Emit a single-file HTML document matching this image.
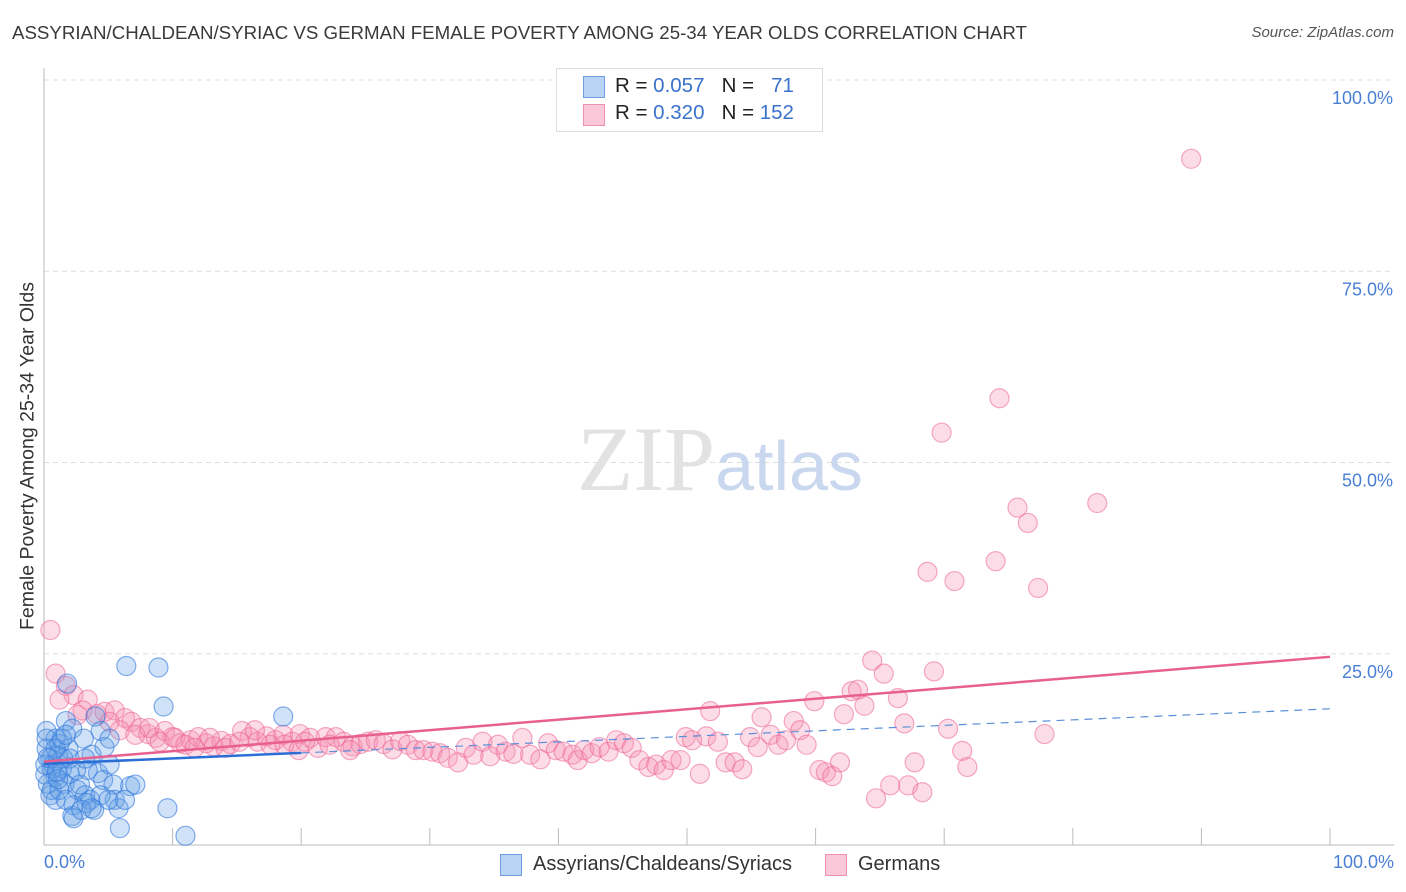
<!DOCTYPE html>
<html><head><meta charset="utf-8"><style>
body{margin:0;background:#fff;font-family:"Liberation Sans",sans-serif;}
#wrap{position:relative;width:1406px;height:892px;overflow:hidden;}
.t{position:absolute;white-space:nowrap;}
</style></head><body>
<div id="wrap">
<div class="t" style="left:12px;top:22px;font-size:18.7px;color:#3a3a3a;">ASSYRIAN/CHALDEAN/SYRIAC VS GERMAN FEMALE POVERTY AMONG 25-34 YEAR OLDS CORRELATION CHART</div>
<div class="t" style="right:12px;top:24px;font-size:15px;color:#555;font-style:italic;">Source: ZipAtlas.com</div>
<svg id="svg" width="1406" height="892" style="position:absolute;left:0;top:0"></svg>
</div>
<script>
const blueX=[6.4,8.9,1.8,9.3,18.6,1.7,2.2,4.4,4.0,0.2,0.9,1.2,3.1,0.2,0.5,0.6,0.9,0.3,1.4,2.0,1.6,3.7,4.2,5.1,4.6,2.6,3.2,5.4,6.7,7.1,5.5,3.6,2.3,3.9,5.8,2.2,3.3,5.9,9.6,11.0,0.7,1.1,0.1,0.5,1.9,2.3,4.7,1.5,2.8,0.9,4.4,3.4,1.7,5.0,2.9,0.2,0.6,1.2,2.0,0.9,0.1,0.3,1.4,1.1,2.5,3.2,3.7,6.3,5.1,1.0,1.7];
const blueY=[23.4,23.2,21.1,18.1,16.8,16.2,15.2,14.9,16.8,14.9,13.9,13.2,13.9,12.6,11.3,10.0,8.9,8.0,10.0,9.3,8.0,11.8,9.4,10.5,8.5,7.2,6.5,7.9,7.7,7.9,5.9,5.9,5.2,4.6,4.8,3.8,5.5,2.2,4.8,1.2,10.5,11.7,9.2,6.5,12.6,3.5,12.8,11.3,7.9,5.9,6.5,9.8,5.9,5.9,4.6,13.9,7.2,7.2,11.3,12.6,10.5,11.4,13.9,8.6,9.8,11.3,4.8,5.9,13.9,9.6,14.4];
const pinkX=[0.5,0.9,1.7,2.3,3.4,3.0,4.1,4.7,5.5,6.3,6.8,7.5,8.1,8.7,9.4,10.0,10.6,11.4,12.0,12.6,13.2,13.8,14.5,15.4,16.0,16.6,17.3,18.0,18.6,19.3,19.9,20.7,21.3,21.9,22.7,23.3,24.0,24.6,25.2,25.8,26.4,27.1,27.7,28.3,28.9,29.5,30.2,30.8,31.4,32.2,32.8,33.4,34.1,34.7,35.3,35.9,36.5,37.2,37.8,38.6,39.2,39.8,40.4,41.1,41.5,42.0,42.6,43.2,43.9,44.5,45.1,45.7,46.3,47.0,47.6,48.2,48.8,49.5,49.9,50.4,51.0,51.5,51.8,52.4,53.0,53.7,54.3,54.9,55.5,55.8,56.5,57.1,57.7,58.3,58.8,59.3,59.9,60.3,60.8,61.3,61.9,62.2,62.8,63.3,63.8,64.4,64.7,65.3,65.8,66.4,66.9,67.2,67.7,68.3,68.7,69.2,69.8,70.3,70.8,71.4,71.8,74.0,74.3,75.7,76.5,77.3,77.8,81.9,89.2,1.2,2.6,5.1,5.9,7.1,8.2,9.0,10.2,11.0,11.7,12.9,14.1,15.2,16.4,17.6,18.7,19.8,20.3,22.2,23.8];
const pinkY=[28.1,22.4,20.8,19.6,19.0,17.6,17.1,17.4,17.6,16.6,16.1,15.3,14.5,14.0,14.9,14.1,13.3,13.7,14.1,13.3,12.9,13.6,13.2,14.9,14.1,13.5,14.2,13.7,14.4,13.5,14.5,14.0,12.7,14.1,14.1,13.5,12.9,13.2,13.5,13.7,13.2,12.5,13.6,13.1,12.4,12.4,12.2,12.0,11.4,10.8,12.7,11.8,13.5,11.6,13.1,12.2,11.9,14.0,11.8,11.2,13.3,12.4,12.2,11.8,11.1,12.4,12.0,12.8,12.2,13.7,13.3,12.7,11.1,10.2,10.5,9.8,11.1,11.1,14.1,13.7,9.3,14.2,17.5,13.5,10.8,10.8,9.9,14.1,12.8,16.7,14.4,13.1,13.7,16.2,15.0,13.1,18.8,9.8,9.5,9.0,10.8,17.1,20.1,20.3,18.2,24.1,6.1,22.4,7.8,19.2,15.9,7.8,10.8,6.9,35.7,22.7,53.9,15.2,34.5,12.3,10.2,37.1,58.4,44.1,42.1,33.6,14.5,44.7,89.7,19.0,17.0,16.1,15.0,14.4,15.3,13.5,14.0,13.1,12.7,14.0,12.7,13.5,15.0,13.1,13.1,12.4,13.5,13.1,12.4];
const xTicks=[0,10,20,30,40,50,60,70,80,90,100];
const yTicks=[25,50,75,100];
const yTickLabels=["25.0%","50.0%","75.0%","100.0%"];
const blueTrend=[10.6,17.8];
const pinkTrend=[10.9,24.6];
const blueSolidEnd=20;

const NS="http://www.w3.org/2000/svg";
const svg=document.getElementById('svg');
const X=v=>44+v*12.86, Y=v=>845-v*7.65;
function mk(tag,attrs,parent){const e=document.createElementNS(NS,tag);for(const k in attrs)e.setAttribute(k,attrs[k]);(parent||svg).appendChild(e);return e;}
yTicks.forEach((t,i)=>{
 const g=mk('line',{x1:44,x2:1394,y1:Y(t),y2:Y(t),stroke:'#ddd','stroke-dasharray':'5,4'});
 
 
 const tx=mk('text',{x:1393,y:Y(t)+24,'text-anchor':'end','font-size':18,fill:'#4a7fd4','font-family':'Liberation Sans, sans-serif'});
 tx.textContent=yTickLabels[i];
 
 
});
const ax=mk('line',{x1:44,x2:1394,y1:845,y2:845,stroke:'#bbb'});


const ay=mk('line',{x1:44,x2:44,y1:68,y2:845,stroke:'#bbb'});


xTicks.forEach(t=>{if(t===0)return;
 const l=mk('line',{x1:X(t),x2:X(t),y1:828,y2:845,stroke:'#bbb'});
 
 
});
const wm=mk('text',{x:720,y:490,'text-anchor':'middle','font-size':92,'font-family':'Liberation Serif, serif',fill:'#e2e2e2'});
wm.innerHTML='ZIP<tspan fill="#c9d8ee" font-family="Liberation Sans, sans-serif" font-size="70">atlas</tspan>';


pinkX.forEach((x,i)=>{const c=mk('circle',{cx:X(x),cy:Y(pinkY[i]),r:9.5,fill:'rgba(244,143,177,0.3)',stroke:'rgba(236,100,150,0.55)','stroke-width':1.2});
 
 });
blueX.forEach((x,i)=>{const c=mk('circle',{cx:X(x),cy:Y(blueY[i]),r:9.5,fill:'rgba(100,160,230,0.3)',stroke:'rgba(50,120,220,0.6)','stroke-width':1.2});
 
 });
const bt=v=>blueTrend[0]+(blueTrend[1]-blueTrend[0])*v/100;
const bl=mk('line',{x1:X(0),y1:Y(bt(0)),x2:X(blueSolidEnd),y2:Y(bt(blueSolidEnd)),stroke:'#2b6fd6','stroke-width':2.5});


const bd=mk('line',{x1:X(blueSolidEnd),y1:Y(bt(blueSolidEnd)),x2:X(100),y2:Y(bt(100)),stroke:'#5b8fd8','stroke-width':1.2,'stroke-dasharray':'8,6'});


const pl=mk('line',{x1:X(0),y1:Y(pinkTrend[0]),x2:X(100),y2:Y(pinkTrend[1]),stroke:'#e8608f','stroke-width':2.5});


</script>
<div class="t" style="left:28px;top:456px;font-size:19.5px;color:#333;transform:translate(-50%,-50%) rotate(-90deg);">Female Poverty Among 25-34 Year Olds</div>
<div class="t" style="left:44px;top:852px;font-size:18px;color:#4a7fd4;">0.0%</div>
<div class="t" style="right:12px;top:852px;font-size:18px;color:#4a7fd4;">100.0%</div>
<div style="position:absolute;left:556px;top:68px;width:265px;height:62px;border:1px solid #ddd;background:#fff;font-size:20.5px;color:#222;">
 <div style="position:absolute;left:26px;top:7px;width:20px;height:20px;background:#b9d3f5;border:1px solid #6d9ee0;"></div>
 <div class="t" style="left:58px;top:5px;">R = <span style="color:#3a72cc">0.057</span>&nbsp;&nbsp;&nbsp;N = &nbsp;&nbsp;<span style="color:#3a72cc">71</span></div>
 <div style="position:absolute;left:26px;top:35px;width:20px;height:20px;background:#fac8d8;border:1px solid #ec8fb0;"></div>
 <div class="t" style="left:58px;top:32px;">R = <span style="color:#3a72cc">0.320</span>&nbsp;&nbsp;&nbsp;N = <span style="color:#3a72cc">152</span></div>
</div>
<div style="position:absolute;left:500px;top:853px;font-size:20px;color:#333;">
 <div style="position:absolute;left:0;top:1px;width:20px;height:20px;background:#b9d3f5;border:1px solid #6d9ee0;"></div>
 <div class="t" style="left:33px;top:0;">Assyrians/Chaldeans/Syriacs</div></div>
<div style="position:absolute;left:825px;top:853px;font-size:20px;color:#333;">
 <div style="position:absolute;left:0;top:1px;width:20px;height:20px;background:#fac8d8;border:1px solid #ec8fb0;"></div>
 <div class="t" style="left:33px;top:0;">Germans</div></div>
</body></html>
